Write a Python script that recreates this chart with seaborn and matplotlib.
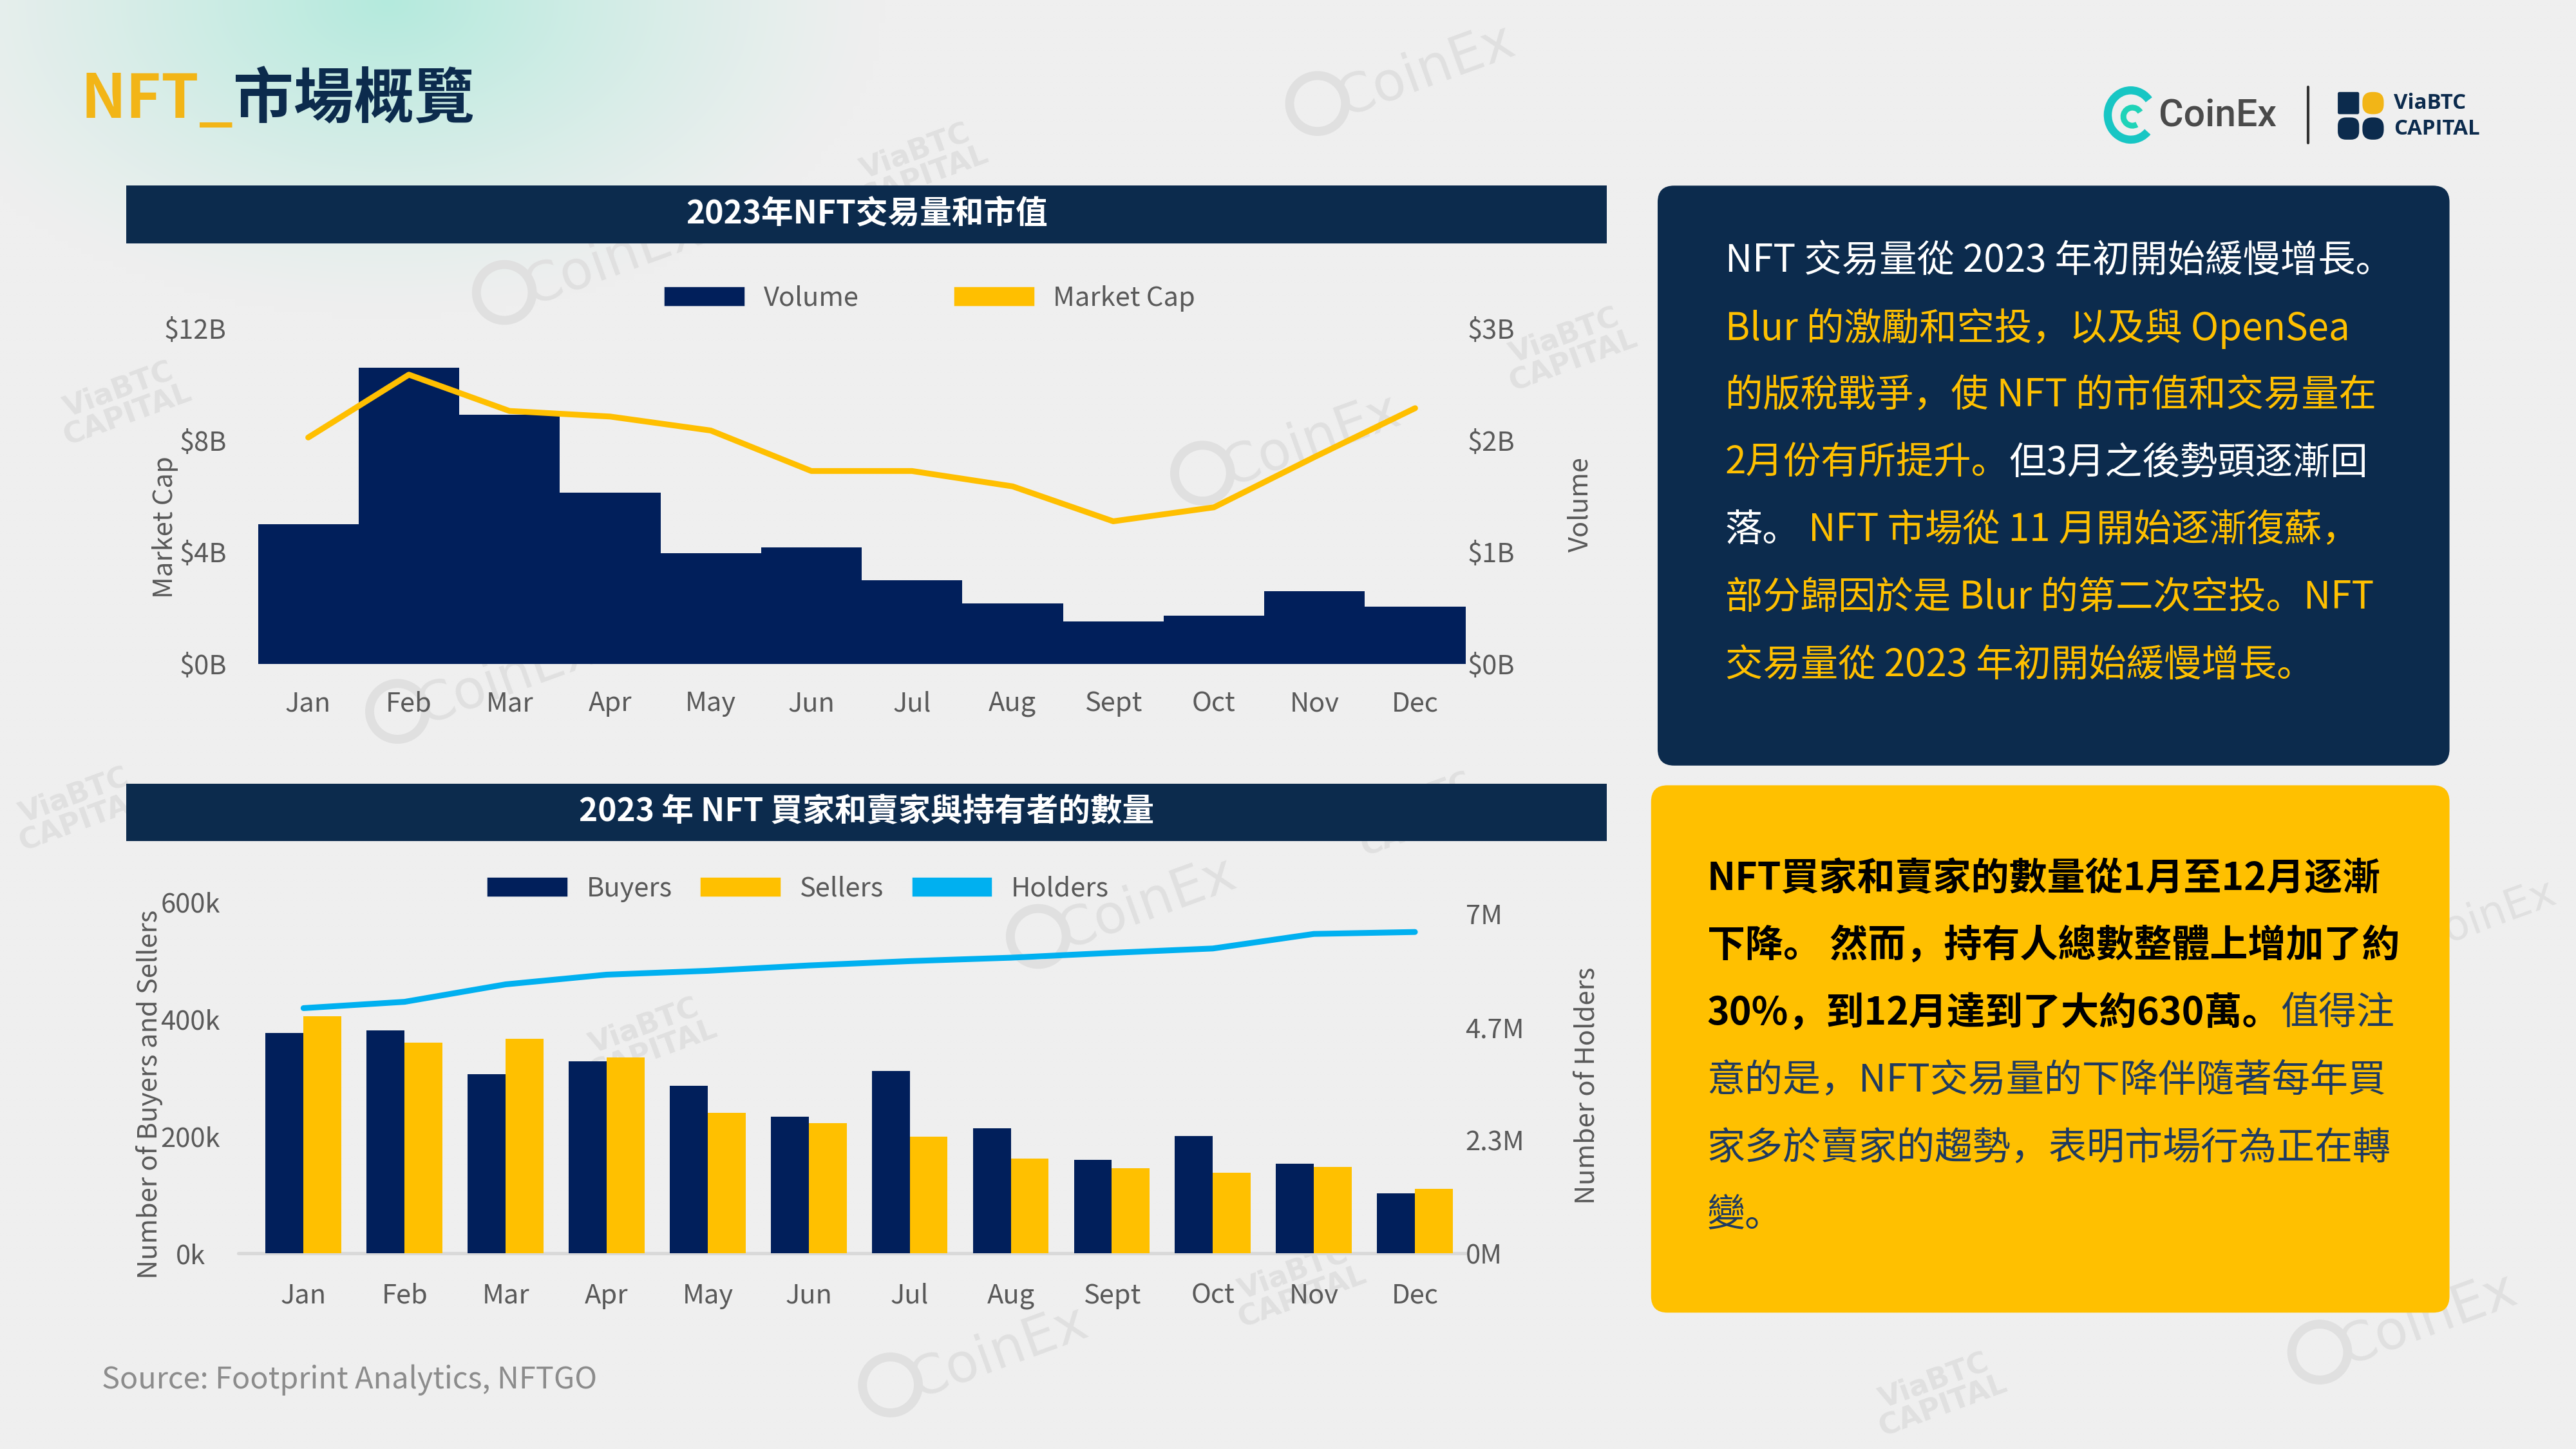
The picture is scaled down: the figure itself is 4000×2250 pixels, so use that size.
import numpy as np
import pandas as pd
import matplotlib
matplotlib.use("Agg")
import matplotlib.pyplot as plt
import seaborn as sns
from matplotlib.patches import Rectangle, FancyBboxPatch, Patch, Arc, Circle

# ---------------- data ----------------
months = ["Jan", "Feb", "Mar", "Apr", "May", "Jun", "Jul", "Aug", "Sept", "Oct", "Nov", "Dec"]
volume_b = [1.25, 2.65, 2.23, 1.53, 0.99, 1.04, 0.75, 0.54, 0.38, 0.43, 0.65, 0.51]
market_cap_b = [8.1, 10.35, 9.05, 8.85, 8.35, 6.9, 6.9, 6.35, 5.1, 5.6, 7.4, 9.15]
buyers_k = [376, 381, 306, 328, 286, 234, 311, 214, 160, 201, 153, 103]
sellers_k = [405, 360, 367, 335, 240, 222, 199, 162, 145, 138, 148, 110]
holders_m = [5.06, 5.19, 5.55, 5.75, 5.83, 5.94, 6.03, 6.10, 6.20, 6.29, 6.59, 6.63]

mcap_ticks = [0, 4, 8, 12]
mcap_tick_labels = ["$0B", "$4B", "$8B", "$12B"]
vol_ticks = [0, 1, 2, 3]
vol_tick_labels = ["$0B", "$1B", "$2B", "$3B"]
count_ticks = [0, 200, 400, 600]
count_tick_labels = ["0k", "200k", "400k", "600k"]
holder_ticks = [0, 7 / 3, 14 / 3, 7]
holder_tick_labels = ["0M", "2.3M", "4.7M", "7M"]

title_a = "NFT_"
title_b = "市場概覽"
chart1_title = "2023年NFT交易量和市值"
chart2_title = "2023 年 NFT 買家和賣家與持有者的數量"
source_text = "Source: Footprint Analytics, NFTGO"

# ---------------- style ----------------
NAVY = "#011F5B"
HEAD = "#0C2B4D"
GOLD = "#FFC000"
BLUE = "#00B0F0"
GREY = "#595959"
CJK = ["Noto Sans CJK SC", "DejaVu Sans"]

sns.set_theme(style="white")
plt.rcParams["font.family"] = CJK
plt.rcParams["axes.unicode_minus"] = False

W, H = 1568, 882
fig = plt.figure(figsize=(16, 9), dpi=250)
fig.patch.set_facecolor("#efefef")

bg = fig.add_axes([0, 0, 1, 1])
bg.set_zorder(0)
gx, gy = np.meshgrid(np.linspace(0, W, 400), np.linspace(0, H, 225))
r = np.sqrt(((gx - 235) / 300) ** 2 + ((gy - 0) / 190) ** 2)
wgt = np.clip(1 - r, 0, 1) ** 1.2
base = np.array([239, 239, 239]) / 255
glow = np.array([180, 234, 221]) / 255
img = base + (glow - base) * wgt[..., None]
bg.imshow(img, extent=(0, W, H, 0), origin="upper", aspect="auto", interpolation="bilinear", zorder=0)
bg.set_xlim(0, W)
bg.set_ylim(H, 0)
bg.axis("off")


def fx(x):
    return x / W


def fy(y):
    return 1 - y / H


# ---------------- watermarks ----------------
WM = "#e0e0e0"
for (x, y, s) in [(365, 160, 24), (790, 270, 24), (860, 45, 24), (1470, 805, 24), (600, 825, 24),
                  (690, 552, 24), (300, 415, 24), (1505, 560, 19)]:
    bg.add_patch(Circle((x - 58 * s / 24, y + 18 * s / 24), 17 * s / 24, fill=False, ec=WM, lw=4, zorder=1))
    bg.text(x + 8, y - 2, "CoinEx", color=WM, fontsize=s, rotation=20, ha="center", va="center",
            family="DejaVu Sans", zorder=1)
for (x, y) in [(560, 100), (75, 245), (955, 212), (395, 632), (48, 492), (790, 782), (865, 495), (1180, 848)]:
    bg.text(x, y, "ViaBTC\nCAPITAL", color=WM, fontsize=13, fontweight="bold", rotation=20, ha="center",
            va="center", family="DejaVu Sans", linespacing=0.95, zorder=1)

# ---------------- title & logos ----------------
t1 = bg.text(49, 61, title_a, color="#F2B517", fontsize=27, fontweight="bold", va="center", ha="left",
             family=CJK, zorder=3)
bg.annotate(title_b, xy=(1, 0.5), xycoords=t1, color=HEAD, fontsize=27, fontweight="bold", va="center",
            ha="left", family=CJK, zorder=3)

# CoinEx logo
bg.add_patch(Arc((1297, 70), 28, 30, theta1=45, theta2=320, color="#17c6c4", lw=3.6, zorder=3))
bg.add_patch(Arc((1298, 71), 11, 11, theta1=60, theta2=330, color="#1fd3b8", lw=2.6, zorder=3))
bg.text(1314, 70, "CoinEx", color="#4a4a4a", fontsize=17, fontweight="medium", va="center", ha="left",
        family="Roboto", zorder=3)
bg.plot([1405, 1405], [53, 87], color="#333333", lw=1.2, zorder=3)
# ViaBTC logo blocks
bg.add_patch(FancyBboxPatch((1423, 56), 13, 13.5, boxstyle="round,pad=0,rounding_size=1", fc=HEAD, ec="none", zorder=3))
bg.add_patch(FancyBboxPatch((1438, 56), 13, 13.5, boxstyle="round,pad=0,rounding_size=6", fc="#F2B517", ec="none", zorder=3))
bg.add_patch(FancyBboxPatch((1423, 71.5), 13, 13.5, boxstyle="round,pad=0,rounding_size=5", fc=HEAD, ec="none", zorder=3))
bg.add_patch(FancyBboxPatch((1438, 71.5), 13, 13.5, boxstyle="round,pad=0,rounding_size=6", fc=HEAD, ec="none", zorder=3))
bg.text(1457, 63, "ViaBTC", color=HEAD, fontsize=9.5, fontweight="bold", va="center", ha="left", family="Open Sans", zorder=3)
bg.text(1457, 78.5, "CAPITAL", color=HEAD, fontsize=9.5, fontweight="bold", va="center", ha="left", family="Open Sans", zorder=3)

# ---------------- chart headers ----------------
for (y0, txt) in [(113, chart1_title), (477, chart2_title)]:
    bg.add_patch(Rectangle((77, y0), 901, 35, fc=HEAD, ec="none", zorder=2))
    bg.text(527.5, y0 + 17, txt, color="white", fontsize=14.3, fontweight="bold", ha="center", va="center",
            family=CJK, zorder=3)

# ---------------- top chart ----------------
df_top = pd.DataFrame({"month": months, "volume": volume_b, "mcap": market_cap_b})
ax1 = fig.add_axes([fx(157), fy(404), (892 - 157) / W, (404 - 200) / H])
ax1.set_zorder(2)
sns.barplot(data=df_top, x="month", y="volume", color=NAVY, saturation=1, width=1.0, linewidth=0, ax=ax1)
ax1.axhline(0, color="#cfd6e0", lw=1.2, zorder=0)
ax1b = ax1.twinx()
ax1b.set_zorder(3)
sns.lineplot(x=np.arange(len(months)), y=df_top["mcap"], color="#FFBF00", lw=2.6, ax=ax1b)
ax1.set_xlim(-0.5, len(months) - 0.5)
ax1.set_ylim(0, 3)
ax1b.set_ylim(0, 12)

for a in (ax1, ax1b):
    a.set_facecolor("none")
    for s in a.spines.values():
        s.set_visible(False)
    a.grid(False)

ax1.yaxis.tick_right()
ax1.yaxis.set_label_position("right")
ax1b.yaxis.tick_left()
ax1b.yaxis.set_label_position("left")
ax1.set_yticks(vol_ticks, vol_tick_labels)
ax1b.set_yticks(mcap_ticks, mcap_tick_labels)
ax1.tick_params(axis="y", length=0, pad=1, labelsize=12, labelcolor=GREY, right=False, left=False)
ax1b.tick_params(axis="y", length=0, pad=14, labelsize=12, labelcolor=GREY, right=False, left=False)
ax1.tick_params(axis="x", length=0, pad=12, labelsize=12, labelcolor=GREY)
ax1.set_xlabel("")
ax1.set_ylabel("Volume", fontsize=12, color=GREY, rotation=90)
ax1.yaxis.set_label_coords(1.084, 0.475)
ax1b.set_ylabel("Market Cap", fontsize=12, color=GREY)
ax1b.yaxis.set_label_coords(-0.066, 0.407)
ax1b.legend(handles=[Patch(color=NAVY, label="Volume"), Patch(color="#FFBF00", label="Market Cap")],
            loc="center", bbox_to_anchor=(0.557, 1.09), ncol=2, frameon=False, fontsize=12,
            handlelength=2.9, handleheight=0.6, handletextpad=0.75, columnspacing=3.6, labelcolor=GREY)

# ---------------- bottom chart ----------------
df_bs = pd.DataFrame({
    "month": months * 2,
    "series": ["Buyers"] * len(months) + ["Sellers"] * len(months),
    "count": buyers_k + sellers_k,
})
ax2 = fig.add_axes([fx(154), fy(763), (892 - 154) / W, (763 - 549) / H])
ax2.set_zorder(2)
sns.barplot(data=df_bs, x="month", y="count", hue="series", palette={"Buyers": NAVY, "Sellers": GOLD},
            saturation=1, width=0.75, gap=0, linewidth=0, legend=False, ax=ax2)
ax2.axhline(0, xmin=-0.012, xmax=1.0, color="#d9d9d9", lw=1.5, zorder=0, clip_on=False)
ax2b = ax2.twinx()
ax2b.set_zorder(3)
sns.lineplot(x=np.arange(len(months)), y=holders_m, color=BLUE, lw=2.6, ax=ax2b)
ax2.set_xlim(-0.5, len(months) - 0.5)
ax2.set_ylim(0, 600)
ax2b.set_ylim(0, 7.25)

for a in (ax2, ax2b):
    a.set_facecolor("none")
    for s in a.spines.values():
        s.set_visible(False)
    a.grid(False)

ax2.set_yticks(count_ticks, count_tick_labels, ha="center")
ax2b.set_yticks(holder_ticks, holder_tick_labels)
ax2.tick_params(axis="y", length=0, pad=28, labelsize=12, labelcolor=GREY)
ax2b.tick_params(axis="y", length=0, pad=0, labelsize=12, labelcolor=GREY)
ax2.tick_params(axis="x", length=0, pad=13, labelsize=12, labelcolor=GREY)
ax2.set_xlabel("")
ax2.set_ylabel("Number of Buyers and Sellers", fontsize=12, color=GREY)
ax2.yaxis.set_label_coords(-0.0745, 0.453)
ax2b.set_ylabel("Number of Holders", fontsize=12, color=GREY, rotation=90)
ax2b.yaxis.set_label_coords(1.0894, 0.477)
ax2b.legend(handles=[Patch(color=NAVY, label="Buyers"), Patch(color=GOLD, label="Sellers"),
                     Patch(color=BLUE, label="Holders")],
            loc="center", bbox_to_anchor=(0.45, 1.037), ncol=3, frameon=False, fontsize=12,
            handlelength=2.9, handleheight=0.6, handletextpad=0.75, columnspacing=1.1, labelcolor=GREY)

# ---------------- text panels ----------------
bg.add_patch(FancyBboxPatch((1009, 113), 482, 353, boxstyle="round,pad=0,rounding_size=10",
                            fc=HEAD, ec="none", zorder=2))
bg.add_patch(FancyBboxPatch((1005, 478), 486, 321, boxstyle="round,pad=0,rounding_size=10",
                            fc=GOLD, ec="none", zorder=2))


def rich(x, y, segs, size):
    prev = None
    for txt, col, wt in segs:
        if prev is None:
            prev = bg.text(x, y, txt, color=col, fontsize=size, fontweight=wt, va="center", ha="left",
                           family=CJK, zorder=4)
        else:
            prev = bg.annotate(txt, xy=(1, 0.5), xycoords=prev, color=col, fontsize=size, fontweight=wt,
                               va="center", ha="left", family=CJK, zorder=4)


WHITE = "white"
YEL = "#FFC000"
panel1 = [
    [("NFT 交易量從 2023 年初開始緩慢增長。", WHITE, "normal")],
    [("Blur 的激勵和空投，以及與 OpenSea", YEL, "normal")],
    [("的版稅戰爭，使 NFT 的市值和交易量在", YEL, "normal")],
    [("2月份有所提升。", YEL, "normal"), ("但3月之後勢頭逐漸回", WHITE, "normal")],
    [("落。", WHITE, "normal"), (" NFT 市場從 11 月開始逐漸復蘇，", YEL, "normal")],
    [("部分歸因於是 Blur 的第二次空投。NFT", YEL, "normal")],
    [("交易量從 2023 年初開始緩慢增長。", YEL, "normal")],
]
for i, segs in enumerate(panel1):
    rich(1050, 159 + i * 41, segs, 16.8)

BLK = "#000000"
NV2 = "#1F3A5F"
panel2 = [
    [("NFT買家和賣家的數量從1月至12月逐漸", BLK, "bold")],
    [("下降。 然而，持有人總數整體上增加了約", BLK, "bold")],
    [("30%，到12月達到了大約630萬。", BLK, "bold"), ("值得注", NV2, "normal")],
    [("意的是，NFT交易量的下降伴隨著每年買", NV2, "normal")],
    [("家多於賣家的趨勢，表明市場行為正在轉", NV2, "normal")],
    [("變。", NV2, "normal")],
]
for i, segs in enumerate(panel2):
    rich(1039, 535 + i * 41, segs, 17.0)

bg.text(62, 840, source_text, color="#8c8c8c", fontsize=13.5, va="center", ha="left", family=CJK, zorder=3)

fig.savefig("out.png", dpi=250, facecolor=fig.get_facecolor())
